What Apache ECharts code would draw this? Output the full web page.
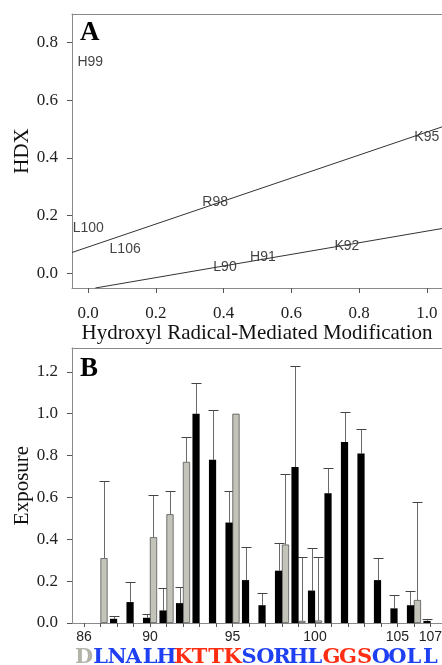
<!DOCTYPE html>
<html>
<head>
<meta charset="utf-8">
<script src="https://cdn.jsdelivr.net/npm/echarts@6/dist/echarts.min.js"></script>
<style>
  html, body { margin: 0; padding: 0; background: #fff; }
  #chart { width: 442px; height: 665px; }
</style>
</head>
<body>
<div id="chart"></div>
<script>
// ---- panel A: HDX vs hydroxyl radical modification ----
const residueLabels = ["H99", "L100", "L106", "R98", "K95", "L90", "H91", "K92"];
const oxModification = [0.006, 0.0, 0.109, 0.375, 1.0, 0.404, 0.516, 0.764];
const hdxValues = [0.73, 0.155, 0.083, 0.245, 0.472, 0.021, 0.055, 0.093];
const upperFitX = [-0.048, 1.045];
const upperFitY = [0.072, 0.507];
const lowerFitX = [0.021, 1.045];
const lowerFitY = [-0.051, 0.155];
const aXTicks = [0, 0.2, 0.4, 0.6, 0.8, 1.0];
const aYTicks = [0, 0.2, 0.4, 0.6, 0.8];

// ---- panel B: exposure per residue ----
const residues = [86, 87, 88, 89, 90, 91, 92, 93, 94, 95, 96, 97, 98, 99, 100, 101, 102, 103, 104, 105, 106, 107];
const sequence = ["D", "L", "N", "A", "L", "H", "K", "T", "T", "K", "S", "O", "R", "H", "L", "G", "G", "S", "O", "O", "L", "L"];
const seqGroup = ["g", "b", "b", "b", "b", "b", "r", "r", "r", "r", "b", "b", "b", "b", "b", "r", "r", "r", "b", "b", "b", "b"];
const hdxExposure = [null, 0.31, null, null, 0.41, 0.52, 0.77, null, null, 1.0, null, null, 0.375, 0.01, 0.012, null, null, null, null, null, 0.11, null];
const hdxErrorTop = [null, 0.68, null, null, 0.61, 0.63, 0.89, null, null, null, null, null, 0.71, 0.315, 0.315, null, null, null, null, null, 0.58, null];
const oxExposure = [null, 0.02, 0.10, 0.025, 0.06, 0.095, 1.0, 0.78, 0.48, 0.205, 0.085, 0.25, 0.745, 0.155, 0.62, 0.865, 0.81, 0.205, 0.07, 0.085, 0.01, null];
const oxErrorTop = [null, 0.035, 0.195, 0.045, 0.165, 0.17, 1.145, 1.02, 0.63, 0.365, 0.145, 0.38, 1.23, 0.36, 0.74, 1.01, 0.925, 0.31, 0.135, 0.155, 0.018, null];
const bXLabels = [86, 90, 95, 100, 105, 107];
const bYTicks = [0, 0.2, 0.4, 0.6, 0.8, 1.0, 1.2];

const serif = "Liberation Serif";
const sans = "Liberation Sans";
const seqFont = "DejaVu Serif";
const axisGrey = "#8a8a8a";
const seqColors = { g: "#b3b3aa", b: "#1f3ff2", r: "#ff2d12" };

const chart = echarts.init(document.getElementById("chart"));

const zip = (xs, ys) => xs.map((x, i) => [x, ys[i]]);
const barData = (offset, values) =>
  residues.map((r, i) => (values[i] == null ? null : [r + offset, values[i]])).filter((d) => d);
const errData = (offset, values, tops) =>
  residues.map((r, i) => (tops[i] == null ? null : [r + offset, values[i], tops[i]])).filter((d) => d);

const renderError = (params, api) => {
  const base = api.coord([api.value(0), api.value(1)]);
  const top = api.coord([api.value(0), api.value(2)]);
  const x = Math.round(base[0]) + 0.5;
  const y = Math.round(top[1]) + 0.5;
  return {
    type: "group",
    children: [
      { type: "line", shape: { x1: x, y1: base[1], x2: x, y2: y }, style: { stroke: "#6a6a6a", lineWidth: 1 } },
      { type: "line", shape: { x1: x - 5, y1: y, x2: x + 5, y2: y }, style: { stroke: "#444", lineWidth: 1 } },
    ],
  };
};

const tickFmt = (v) => v.toFixed(1);
const frameLine = { onZero: false, lineStyle: { color: axisGrey } };
const seqStyle = (color) => ({ color: color, fontFamily: seqFont, fontWeight: "bold", fontSize: 21 });

chart.setOption({
  animation: false,
  grid: [
    { left: 72, right: 0, top: 14, bottom: 377, outerBoundsMode: "none", containLabel: false },
    { left: 72, right: 0, top: 348, bottom: 42, outerBoundsMode: "none", containLabel: false },
  ],
  graphic: [
    { type: "text", left: 80, top: 20, style: { text: "A", font: "bold 27px " + serif, fill: "#000" } },
    { type: "text", left: 80, top: 356, style: { text: "B", font: "bold 27px " + serif, fill: "#000" } },
  ],
  xAxis: [
    {
      gridIndex: 0,
      type: "value",
      position: "bottom",
      min: -0.048,
      max: 1.045,
      name: "Hydroxyl Radical-Mediated Modification",
      nameLocation: "middle",
      nameGap: 35,
      nameMoveOverlap: false,
      nameTextStyle: { fontFamily: serif, fontSize: 21, color: "#111" },
      splitLine: { show: false },
      axisLine: frameLine,
      axisTick: { length: 5, customValues: aXTicks, lineStyle: { color: "#555" } },
      axisLabel: { customValues: aXTicks, formatter: tickFmt, margin: 17, fontFamily: serif, fontSize: 17, color: "#222" },
    },
    {
      gridIndex: 0,
      type: "value",
      position: "top",
      min: -0.048,
      max: 1.045,
      splitLine: { show: false },
      axisLine: frameLine,
      axisTick: { show: false },
      axisLabel: { show: false },
    },
    {
      gridIndex: 1,
      type: "value",
      position: "bottom",
      min: 85.27,
      max: 107.7,
      splitLine: { show: false },
      axisLine: frameLine,
      axisTick: { length: 4, customValues: residues, lineStyle: { color: "#555" } },
      axisLabel: { customValues: bXLabels, margin: 7, fontFamily: sans, fontSize: 14, color: "#222" },
    },
    {
      gridIndex: 1,
      type: "value",
      position: "bottom",
      offset: 0,
      min: 85.27,
      max: 107.7,
      splitLine: { show: false },
      axisLine: { show: false, onZero: false },
      axisTick: { show: false },
      axisLabel: {
        customValues: residues,
        margin: 24,
        formatter: (v) => {
          const i = residues.indexOf(Math.round(v));
          return i < 0 ? "" : "{" + seqGroup[i] + "|" + sequence[i] + "}";
        },
        rich: { g: seqStyle(seqColors.g), b: seqStyle(seqColors.b), r: seqStyle(seqColors.r) },
      },
    },
    {
      gridIndex: 1,
      type: "value",
      position: "top",
      min: 85.27,
      max: 107.7,
      splitLine: { show: false },
      axisLine: frameLine,
      axisTick: { show: false },
      axisLabel: { show: false },
    },
  ],
  yAxis: [
    {
      gridIndex: 0,
      type: "value",
      position: "left",
      min: -0.051,
      max: 0.898,
      name: "HDX",
      nameLocation: "middle",
      nameGap: 39,
      nameMoveOverlap: false,
      nameTextStyle: { fontFamily: serif, fontSize: 21, color: "#111" },
      splitLine: { show: false },
      axisLine: { show: true, onZero: false, lineStyle: { color: axisGrey } },
      axisTick: { show: true, length: 5, customValues: aYTicks, lineStyle: { color: "#555" } },
      axisLabel: { customValues: aYTicks, formatter: tickFmt, margin: 14, fontFamily: serif, fontSize: 17, color: "#222" },
    },
    {
      gridIndex: 1,
      type: "value",
      position: "left",
      min: 0,
      max: 1.314,
      name: "Exposure",
      nameLocation: "middle",
      nameGap: 39,
      nameMoveOverlap: false,
      nameTextStyle: { fontFamily: serif, fontSize: 21, color: "#111" },
      splitLine: { show: false },
      axisLine: { show: true, onZero: false, lineStyle: { color: axisGrey } },
      axisTick: { show: true, length: 5, customValues: bYTicks, lineStyle: { color: "#555" } },
      axisLabel: { customValues: bYTicks, formatter: tickFmt, margin: 14, fontFamily: serif, fontSize: 17, color: "#222" },
    },
  ],
  series: [
    {
      type: "line",
      xAxisIndex: 0,
      yAxisIndex: 0,
      data: zip(upperFitX, upperFitY),
      symbol: "none",
      lineStyle: { color: "#333", width: 1 },
    },
    {
      type: "line",
      xAxisIndex: 0,
      yAxisIndex: 0,
      data: zip(lowerFitX, lowerFitY),
      symbol: "none",
      lineStyle: { color: "#333", width: 1 },
    },
    {
      type: "scatter",
      xAxisIndex: 0,
      yAxisIndex: 0,
      symbolSize: 0,
      data: oxModification.map((x, i) => ({ name: residueLabels[i], value: [x, hdxValues[i]] })),
      label: {
        show: true,
        position: "inside",
        formatter: "{b}",
        fontFamily: sans,
        fontSize: 14,
        color: "#111",
      },
    },
    {
      type: "bar",
      xAxisIndex: 2,
      yAxisIndex: 1,
      barWidth: 7.2,
      barGap: "-100%",
      data: barData(0.21, hdxExposure),
      itemStyle: { color: "#c3c3b9", borderColor: "#555", borderWidth: 0.8 },
    },
    {
      type: "bar",
      xAxisIndex: 2,
      yAxisIndex: 1,
      barWidth: 7.2,
      barGap: "-100%",
      data: barData(0.79, oxExposure),
      itemStyle: { color: "#000" },
    },
    {
      type: "custom",
      xAxisIndex: 2,
      yAxisIndex: 1,
      data: errData(0.21, hdxExposure, hdxErrorTop),
      encode: { x: 0, y: [1, 2] },
      renderItem: renderError,
    },
    {
      type: "custom",
      xAxisIndex: 2,
      yAxisIndex: 1,
      data: errData(0.79, oxExposure, oxErrorTop),
      encode: { x: 0, y: [1, 2] },
      renderItem: renderError,
    },
  ],
});

window.addEventListener("resize", () => {
  chart.resize();
});
</script>
</body>
</html>
